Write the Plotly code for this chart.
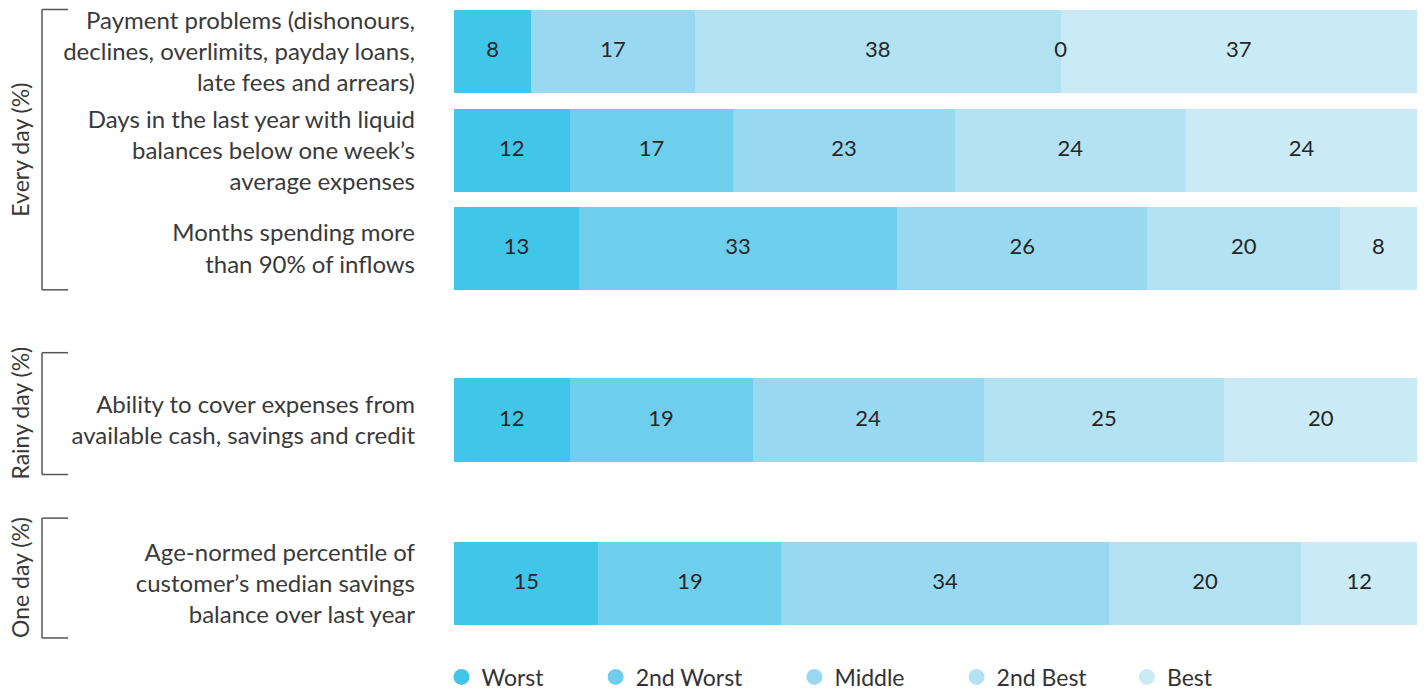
import plotly.graph_objects as go

# ---------------- data ----------------
categories = [
    "Payment problems (dishonours,<br>declines, overlimits, payday loans,<br>late fees and arrears)",
    "Days in the last year with liquid<br>balances below one week’s<br>average expenses",
    "Months spending more<br>than 90% of inflows",
    "Ability to cover expenses from<br>available cash, savings and credit",
    "Age-normed percentile of<br>customer’s median savings<br>balance over last year",
]
series_names = ["Worst", "2nd Worst", "Middle", "2nd Best", "Best"]
worst      = [8, 12, 13, 12, 15]
second_worst = [17, 17, 33, 19, 19]
middle     = [38, 23, 26, 24, 34]
second_best = [0, 24, 20, 25, 20]
best       = [37, 24, 8, 20, 12]
group_labels = ["Every day (%)", "Rainy day (%)", "One day (%)"]

series_values = [worst, second_worst, middle, second_best, best]

# ---------------- style / layout ----------------
palette = ["#41C5E9", "#6ECFEC", "#98D9F1", "#B3E2F3", "#CAEAF5"]
# in the reference, the first row's segments are drawn with shifted colours
row_colour_index = [
    [0, 2, 3, 3, 4],
    [0, 1, 2, 3, 4],
    [0, 1, 2, 3, 4],
    [0, 1, 2, 3, 4],
    [0, 1, 2, 3, 4],
]
row_pos = [0, 1, 1.99, 3.72, 5.37]
bar_w = 0.84
y_top, y_bot = -0.44, 5.87
FONT = "Lato"
PAGE_OFF = 8                      # default body margin of the html page
L_MARGIN, PLOT_W = 454, 963       # in window pixels
legend_pads = [8, 8, 8, 6, 0]     # spacing after each legend entry


def py(u):
    return (y_bot - u) / (y_bot - y_top)


def px(p):
    return (p - L_MARGIN) / PLOT_W


fig = go.Figure()

for i, (name, vals) in enumerate(zip(series_names, series_values)):
    cols = [palette[row_colour_index[r][i]] for r in range(len(vals))]
    fig.add_trace(go.Bar(
        x=vals, y=row_pos, orientation="h", width=bar_w,
        marker=dict(color=cols, line=dict(width=0)),
        name=name, showlegend=False, hoverinfo="x",
    ))

# value labels at the centre of each segment
lx, ly, lt = [], [], []
for r in range(len(categories)):
    cum = 0
    for vals in series_values:
        v = vals[r]
        lx.append(cum + v / 2)
        ly.append(row_pos[r])
        lt.append(str(v))
        cum += v
fig.add_trace(go.Scatter(
    x=lx, y=ly, text=lt, mode="text", showlegend=False, hoverinfo="skip",
    textfont=dict(family=FONT, size=22, color="#262626"),
))

# legend entries (circles)
for i, name in enumerate(series_names):
    fig.add_trace(go.Scatter(
        x=[None], y=[None], mode="markers",
        name=name + "\u00a0" * legend_pads[i],
        marker=dict(symbol="circle", size=19, color=palette[i]),
        showlegend=True,
    ))

# brackets and group labels
brackets = [(-0.425, 2.405), (3.04, 4.27), (4.71, 5.92)]
bx, bt = px(42), px(68)
for (a, b), lab in zip(brackets, group_labels):
    for shp in [
        dict(x0=bx, x1=bx, y0=py(a), y1=py(b)),
        dict(x0=bx, x1=bt, y0=py(a), y1=py(a)),
        dict(x0=bx, x1=bt, y0=py(b), y1=py(b)),
    ]:
        fig.add_shape(type="line", xref="paper", yref="paper",
                      line=dict(color="#555555", width=1.5), **shp)
    fig.add_annotation(
        x=px(20), y=py((a + b) / 2), xref="paper", yref="paper",
        text=lab, textangle=-90, showarrow=False,
        font=dict(family=FONT, size=23, color="#3a3a3a"),
        xanchor="center", yanchor="middle",
    )

fig.update_layout(
    width=1427 - PAGE_OFF, height=691 - PAGE_OFF,
    margin=dict(l=L_MARGIN - PAGE_OFF, r=10, t=0, b=58, autoexpand=False),
    barmode="stack",
    plot_bgcolor="white", paper_bgcolor="white",
    xaxis=dict(range=[0, 100], visible=False, fixedrange=True, automargin=False),
    yaxis=dict(
        range=[y_bot, y_top], tickvals=row_pos, ticktext=categories,
        showgrid=False, zeroline=False, showline=False, automargin=False,
        ticks="", ticklabelstandoff=38, ticklabeloverflow="allow",
        tickfont=dict(family=FONT, size=24, color="#3a3a3a"),
    ),
    legend=dict(
        orientation="h", x=-0.013, xanchor="left", y=-0.0704, yanchor="middle",
        font=dict(family=FONT, size=23, color="#333333"),
        traceorder="normal",
        itemclick=False, itemdoubleclick=False,
    ),
    showlegend=True,
)

fig.write_html("out.html")
